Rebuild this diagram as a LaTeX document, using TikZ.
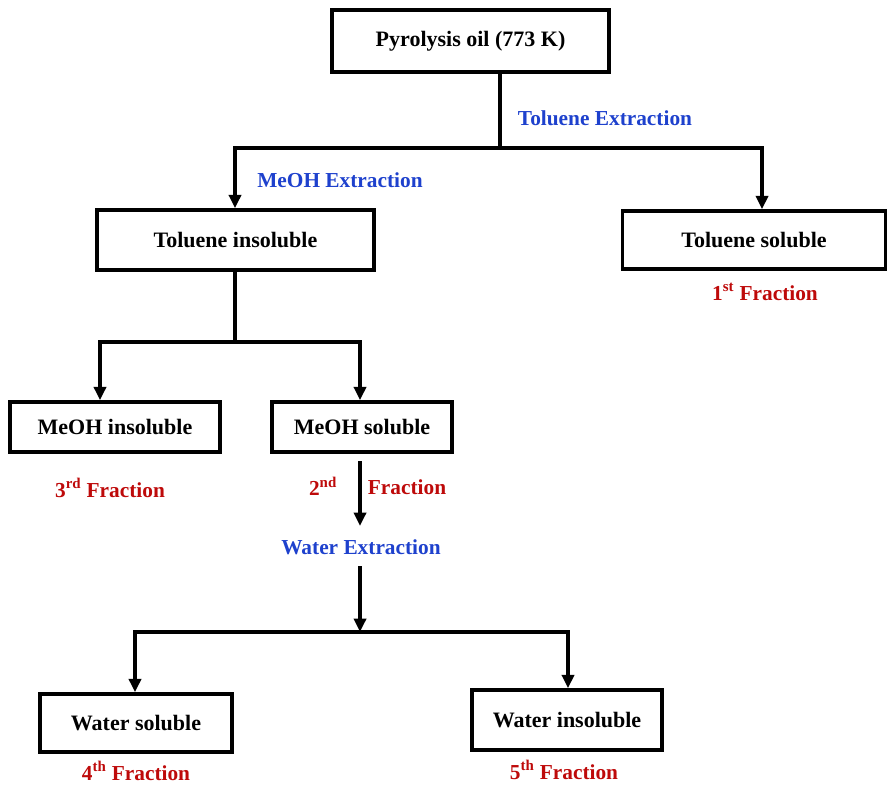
\documentclass[tikz,border=0pt]{standalone}
\usepackage{fontspec}
\setmainfont{Liberation Serif}
\usetikzlibrary{arrows.meta}
\definecolor{lblue}{RGB}{30,65,205}
\definecolor{lred}{RGB}{190,10,10}
\begin{document}
\begin{tikzpicture}[x=0.75pt,y=-0.75pt,
  box/.style={draw=black,line width=2.6pt,inner sep=0pt,font=\fontsize{16.5}{18}\selectfont\bfseries},
  ln/.style={line width=2.6pt},
  arr/.style={line width=2.6pt,-{Triangle[width=9pt,length=10pt]}},
  blab/.style={text=lblue,font=\fontsize{16}{18}\selectfont\bfseries,inner sep=0pt},
  rlab/.style={text=lred,font=\fontsize{16}{18}\selectfont\bfseries,inner sep=0pt}]
\useasboundingbox (0,0) rectangle (887,785);
% boxes
\node[box,minimum width={277*0.75pt},minimum height={62*0.75pt}] (p) at (470.5,41) {Pyrolysis oil (773 K)};
\node[box,minimum width={277*0.75pt},minimum height={60*0.75pt}] (ti) at (235.5,240) {Toluene insoluble};
\node[box,minimum width={263*0.75pt},minimum height={58*0.75pt}] (ts) at (754,240) {Toluene soluble};
\node[box,minimum width={210*0.75pt},minimum height={50*0.75pt}] (mi) at (115,427) {MeOH insoluble};
\node[box,minimum width={180*0.75pt},minimum height={50*0.75pt}] (ms) at (362,427) {MeOH soluble};
\node[box,minimum width={192*0.75pt},minimum height={58*0.75pt}] (ws) at (136,723) {Water soluble};
\node[box,minimum width={190*0.75pt},minimum height={60*0.75pt}] (wi) at (567,720) {Water insoluble};
% labels
\node[blab] (te) at (605,118) {Toluene Extraction};
\node[blab] (me) at (340,180) {MeOH Extraction};
\node[blab] (we) at (361,547) {Water Extraction};
\node[rlab] (f1) at (765,292) {1\textsuperscript{st} Fraction};
\node[rlab] (f3) at (110,488) {3\textsuperscript{rd} Fraction};
\node[rlab] (f2a) at (323,486) {2\textsuperscript{nd}};
\node[rlab] (f2b) at (407,487) {Fraction};
\node[rlab] (f4) at (136,771) {4\textsuperscript{th} Fraction};
\node[rlab] (f5) at (564,770) {5\textsuperscript{th} Fraction};
% junctions
\coordinate (j1) at (500,148);
\coordinate (j2) at (235,342);
\coordinate (j3) at (360,632);
\coordinate (a1) at (360,461);
\coordinate (a2) at (360,526);
\coordinate (a3) at (360,566);
% connectors
\draw[ln] (p.south -| j1) -- (j1);
\draw[ln] (233.3,148) -- (763.7,148);
\draw[arr] (235,146.5) -- (ti.north -| 235,0);
\draw[arr] (762,146.5) -- (ts.north -| 762,0);
\draw[ln] (ti.south -| j2) -- (j2);
\draw[ln] (98.3,342) -- (361.7,342);
\draw[arr] (100,340.5) -- (mi.north -| 100,0);
\draw[arr] (360,340.5) -- (ms.north -| 360,0);
\draw[arr] (a1) -- (a2);
\draw[arr] (a3) -- (j3);
\draw[ln] (133.3,632) -- (569.7,632);
\draw[arr] (135,630.5) -- (ws.north -| 135,0);
\draw[arr] (568,630.5) -- (wi.north -| 568,0);
\end{tikzpicture}
\end{document}
